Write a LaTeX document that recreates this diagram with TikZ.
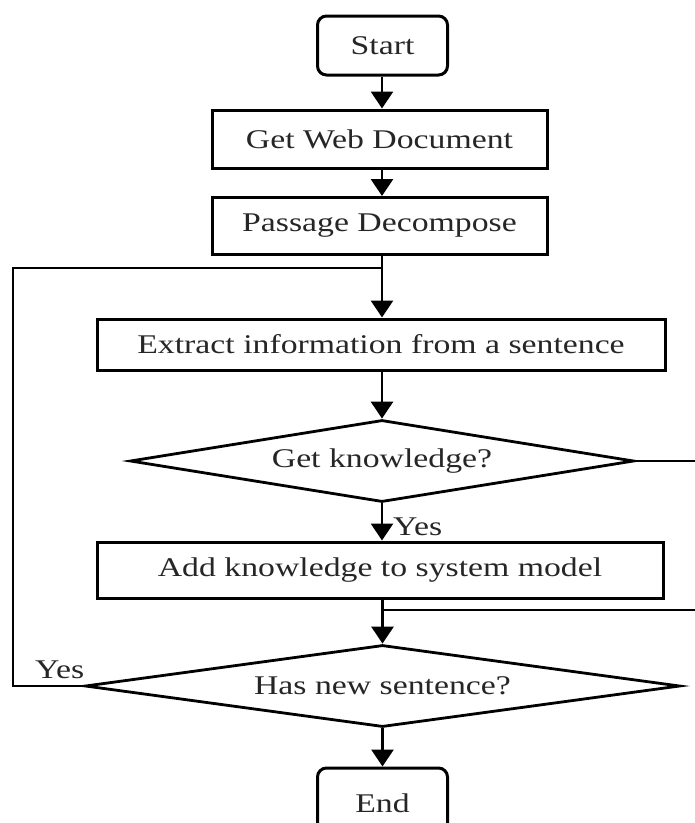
\documentclass[tikz,border=0pt]{standalone}
\usepackage{fontspec}
\setmainfont{Liberation Serif}[FakeStretch=1.25]
\usetikzlibrary{arrows.meta,shapes.geometric}
\begin{document}
\begin{tikzpicture}[x=1pt,y=-1pt,
  every node/.style={font=\fontsize{27}{31}\selectfont, text=black!85},
  proc/.style={draw=black, line width=3pt, rectangle, inner sep=0pt, anchor=center},
  term/.style={proc, rounded corners=9pt},
  dec/.style={draw=black, line width=2.8pt, diamond, inner sep=0pt, aspect=6},
  conn/.style={line width=2.8pt, -{Triangle[width=22pt,length=17pt]}},
  line/.style={line width=2.8pt},
  lbl/.style={inner sep=0pt, anchor=base west}]
\clip (0,0) rectangle (695,823);
\fill[white] (0,0) rectangle (695,823);
\node[term, minimum width=130pt, minimum height=59pt] (start) at (382.5,45.5) {Start};
\node[proc, minimum width=335pt, minimum height=58pt] (web) at (379.5,139) {Get Web Document};
\node[proc, minimum width=335pt, minimum height=57pt] (pass) at (379.5,226) {Passage Decompose};
\node[proc, minimum width=568pt, minimum height=51pt] (ext) at (381,344.5) {Extract information from a sentence};
\node[dec, minimum width=504pt, minimum height=82pt] (gk) at (382,461) {Get knowledge?};
\node[proc, minimum width=566pt, minimum height=56pt] (add) at (380,570) {Add knowledge to system model};
\node[dec, minimum width=595pt, minimum height=82pt] (hns) at (382.5,686) {Has new sentence?};
\node[term, minimum width=130pt, minimum height=70pt] (end) at (382.5,803) {End};
\coordinate (join) at (382,268);
\coordinate (loopL) at (13,268);
\coordinate (rtop) at (700,461);
\coordinate (rbot) at (700,610);
\coordinate (merge) at (382,610);
\draw[conn] (start.south -| 382,0) -- (web.north -| 382,0);
\draw[conn] (web.south -| 382,0) -- (pass.north -| 382,0);
\draw[conn] (pass.south -| join) -- (ext.north -| join);
\draw[conn] (ext.south -| join) -- (gk.north);
\draw[conn] (gk.south) -- (add.north -| gk.south);
\draw[conn] (add.south -| hns.north) -- (hns.north);
\draw[conn] (hns.south) -- (end.north -| hns.south);
\draw[line] (hns.west) -| (loopL) -- (join);
\draw[line] (gk.east) -- (rtop);
\draw[line] (rbot) -- (merge);
\node[lbl] (yes1) at (393,535) {Yes};
\node[lbl] (yes2) at (35,678) {Yes};
\end{tikzpicture}
\end{document}
